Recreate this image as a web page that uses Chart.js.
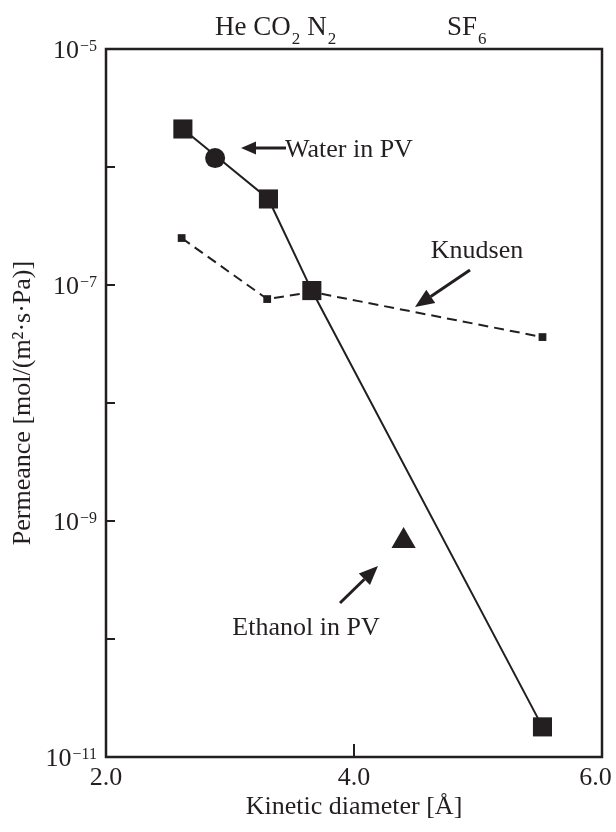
<!DOCTYPE html>
<html>
<head>
<meta charset="utf-8">
<title>Permeance vs kinetic diameter</title>
<script src="https://cdn.jsdelivr.net/npm/chart.js@4"></script>
<style>
    body { margin: 0; background: #fff; }
    #wrap { width: 616px; height: 832px; }
</style>
</head>
<body>
<div id="wrap"><canvas id="permeanceChart" width="616" height="832"></canvas></div>
<script>
// single gas permeation through the membrane (solid line)
const gases = ['He', 'CO2', 'N2', 'SF6'];
const gasDiameter = [2.62, 3.31, 3.66, 5.52];
const gasPermeance = [2.1e-6, 5.36e-7, 8.97e-8, 1.8e-11];

// Knudsen diffusion reference (dashed line)
const knudsenDiameter = [2.61, 3.30, 3.66, 5.52];
const knudsenPermeance = [2.5e-7, 7.6e-8, 8.73e-8, 3.62e-8];

// pervaporation points
const waterDiameter = [2.88];
const waterPermeance = [1.19e-6];
const ethanolDiameter = [4.40];
const ethanolPermeance = [6.78e-10];

// axis ticks
const xTicks = [2.0, 4.0, 6.0];
const yExponents = [-11, -10, -9, -8, -7, -6, -5];
const yLabelExponents = [-11, -9, -7, -5];

const ink = '#231f20';
const serif = '"Liberation Serif", "Times New Roman", serif';

const toPoints = (xs, ys) => xs.map((x, i) => ({ x: x, y: ys[i] }));

function drawArrow(ctx, x1, y1, x2, y2, headLen, headWidth) {
    const ang = Math.atan2(y2 - y1, x2 - x1);
    const bx = x2 - Math.cos(ang) * headLen;
    const by = y2 - Math.sin(ang) * headLen;
    ctx.beginPath();
    ctx.moveTo(x1, y1);
    ctx.lineTo(bx, by);
    ctx.stroke();
    const nx = -Math.sin(ang) * headWidth / 2;
    const ny = Math.cos(ang) * headWidth / 2;
    ctx.beginPath();
    ctx.moveTo(x2, y2);
    ctx.lineTo(bx + nx, by + ny);
    ctx.lineTo(bx - nx, by - ny);
    ctx.closePath();
    ctx.fill();
}

// text with a lowered last part, e.g. CO + 2
function drawSub(ctx, x, y, main, sub) {
    ctx.font = '27px ' + serif;
    ctx.fillText(main, x, y);
    const w = ctx.measureText(main).width;
    ctx.font = '17px ' + serif;
    ctx.fillText(sub, x + w + 1, y + 9);
    return x + w + 1 + ctx.measureText(sub).width;
}

const framePlugin = {
    id: 'frame',
    afterDraw(chart) {
        const ctx = chart.ctx;
        const area = chart.chartArea;
        const xs = chart.scales.x;
        const ys = chart.scales.y;
        ctx.save();
        ctx.strokeStyle = ink;
        ctx.fillStyle = ink;

        // box
        ctx.lineWidth = 2.5;
        ctx.strokeRect(area.left, area.top, area.right - area.left, area.bottom - area.top);

        // inward tick marks
        ctx.lineWidth = 2;
        ctx.beginPath();
        xTicks.slice(1, -1).forEach(v => {
            const px = xs.getPixelForValue(v);
            ctx.moveTo(px, area.bottom);
            ctx.lineTo(px, area.bottom - 13);
        });
        yExponents.slice(1, -1).forEach(e => {
            const py = ys.getPixelForValue(Math.pow(10, e));
            ctx.moveTo(area.left, py);
            ctx.lineTo(area.left + 9, py);
        });
        ctx.stroke();

        // power-of-ten labels
        ctx.textAlign = 'right';
        ctx.textBaseline = 'alphabetic';
        yLabelExponents.forEach(e => {
            const py = ys.getPixelForValue(Math.pow(10, e));
            const right = area.left - 9;
            const sup = '\u2212' + Math.abs(e);
            ctx.font = '16px ' + serif;
            ctx.fillText(sup, right, py + 2);
            const sw = ctx.measureText(sup).width;
            ctx.font = '26px ' + serif;
            ctx.fillText('10', right - sw - 1, py + 9);
        });

        // gas names along the top
        ctx.textAlign = 'left';
        let cx = drawSub(ctx, 215, 35, 'He CO', '2');
        drawSub(ctx, cx + 7, 35, 'N', '2');
        drawSub(ctx, 447, 35, 'SF', '6');

        // annotations
        ctx.font = '26px ' + serif;
        ctx.lineWidth = 3;
        drawArrow(ctx, 286, 148, 241, 148, 15, 13);
        ctx.textAlign = 'left';
        ctx.fillText('Water in PV', 285, 157);

        drawArrow(ctx, 470, 270, 415, 307, 19, 16);
        ctx.textAlign = 'center';
        ctx.fillText('Knudsen', 477, 258);

        drawArrow(ctx, 340, 603, 378, 566, 19, 16);
        ctx.fillText('Ethanol in PV', 306, 635);

        ctx.restore();
    }
};

const ctx = document.getElementById('permeanceChart').getContext('2d');
new Chart(ctx, {
    type: 'scatter',
    data: {
        datasets: [
            {
                label: 'Single gas',
                data: toPoints(gasDiameter, gasPermeance),
                showLine: true,
                borderColor: ink,
                borderWidth: 2,
                pointStyle: 'rect',
                pointRadius: 13.5,
                pointBackgroundColor: ink,
                pointBorderWidth: 0,
                order: 1
            },
            {
                label: 'Water in PV',
                data: toPoints(waterDiameter, waterPermeance),
                pointStyle: 'circle',
                pointRadius: 10,
                pointBackgroundColor: ink,
                pointBorderWidth: 0,
                order: 0
            },
            {
                label: 'Ethanol in PV',
                data: toPoints(ethanolDiameter, ethanolPermeance),
                pointStyle: 'triangle',
                pointRadius: 14,
                pointBackgroundColor: ink,
                pointBorderWidth: 0,
                order: 0
            },
            {
                label: 'Knudsen',
                data: toPoints(knudsenDiameter, knudsenPermeance),
                showLine: true,
                borderColor: ink,
                borderWidth: 2,
                borderDash: [10, 6],
                pointStyle: 'rect',
                pointRadius: 5.5,
                pointBackgroundColor: ink,
                pointBorderWidth: 0,
                order: 2
            }
        ]
    },
    options: {
        responsive: false,
        animation: false,
        layout: { padding: { top: 49, right: 14, left: 0, bottom: 0 } },
        plugins: {
            legend: { display: false },
            tooltip: { enabled: false }
        },
        scales: {
            x: {
                type: 'linear',
                min: 2,
                max: 6,
                afterBuildTicks: scale => { scale.ticks = xTicks.map(v => ({ value: v })); },
                afterFit: scale => {
                    scale.height = 75;
                    // let the end labels hang past the box instead of shrinking it
                    scale.paddingLeft = 0;
                    scale.paddingRight = 0;
                },
                grid: { display: false, drawTicks: false },
                border: { display: false },
                ticks: {
                    color: ink,
                    font: { family: serif, size: 26 },
                    padding: 6,
                    maxRotation: 0,
                    // trailing en space nudges the last label back inside the canvas
                    callback: v => Number(v).toFixed(1) + (v === 6 ? '\u2002' : '')
                },
                title: {
                    display: true,
                    text: 'Kinetic diameter [Å]',
                    color: ink,
                    font: { family: serif, size: 26 },
                    padding: { top: 0, bottom: 9 }
                }
            },
            y: {
                type: 'logarithmic',
                min: 1e-11,
                max: 1e-5,
                afterBuildTicks: scale => { scale.ticks = yExponents.map(e => ({ value: Math.pow(10, e) })); },
                afterFit: scale => { scale.width = 106; },
                grid: { display: false, drawTicks: false },
                border: { display: false },
                ticks: { display: false },
                title: {
                    display: true,
                    text: 'Permeance [mol/(m²·s·Pa)]',
                    color: ink,
                    font: { family: serif, size: 26 },
                    padding: { top: 8, bottom: 0 }
                }
            }
        }
    },
    plugins: [framePlugin]
});
</script>
</body>
</html>
